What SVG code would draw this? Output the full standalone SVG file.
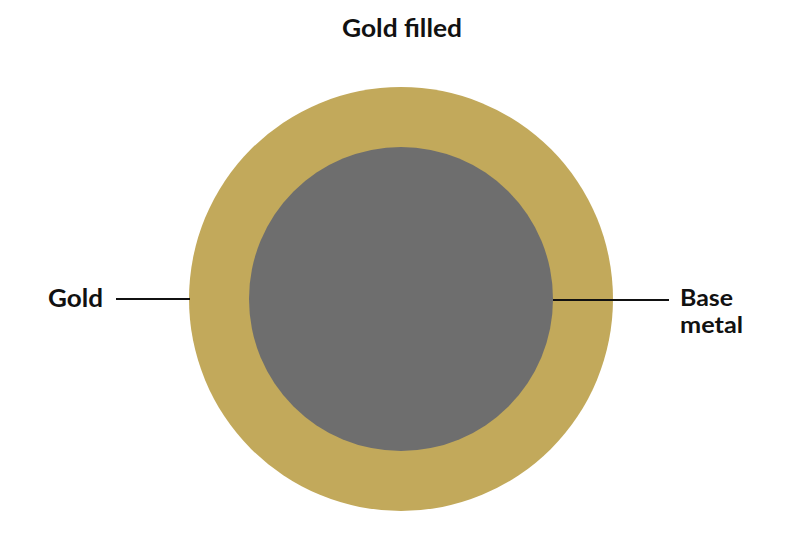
<svg xmlns="http://www.w3.org/2000/svg" width="800" height="534" viewBox="0 0 800 534">
<style>
.t{font-family:"Lato","Liberation Sans",sans-serif;font-weight:bold;font-size:24px;fill:#111}
.s{font-size:22px}
.l{stroke:#111;stroke-width:2;fill:none}
</style>
<rect width="800" height="534" fill="#fff"/>
<text class="t" x="342" y="37" textLength="120" lengthAdjust="spacingAndGlyphs">Gold filled</text>
<g id="gold"><circle cx="401" cy="299" r="212" fill="#C2A95B"/></g>
<g id="base-metal"><circle cx="401" cy="299" r="152" fill="#6E6E6E"/></g>
<g id="connectors">
<line class="l" x1="116" y1="299" x2="190" y2="299"/>
<line class="l" x1="553" y1="300" x2="669" y2="300"/>
</g>
<g id="label-gold"><text class="t" x="48" y="307" textLength="55" lengthAdjust="spacingAndGlyphs">Gold</text></g>
<g id="label-base"><text class="t s" x="680" y="306" textLength="53" lengthAdjust="spacingAndGlyphs">Base</text><text class="t s" x="680" y="333" textLength="63" lengthAdjust="spacingAndGlyphs">metal</text></g>
</svg>
